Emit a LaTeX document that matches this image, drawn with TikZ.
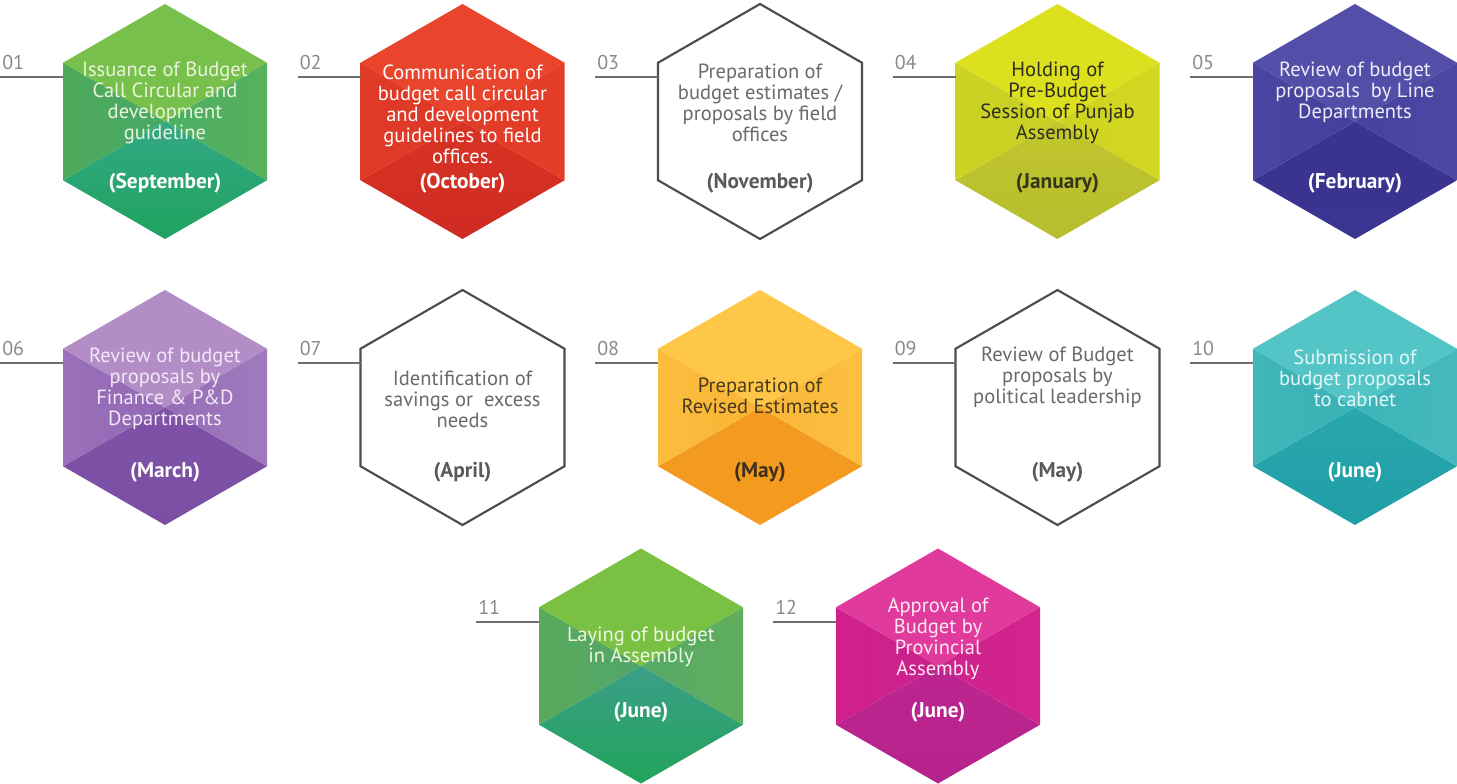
\documentclass[tikz,border=0pt]{standalone}
\usepackage{fontspec}
\setmainfont{PT Sans}
\usetikzlibrary{calc}
\definecolor{linegray}{HTML}{6E6E6E}
\definecolor{numgray}{HTML}{8A8A8A}
\definecolor{outlgray}{HTML}{4D4D4D}
\definecolor{otext}{HTML}{6A6A6A}
\definecolor{omonth}{HTML}{5A5A5A}
% hex colours: T top, L left, R right, Ba bottom upper, Bb bottom lower
\definecolor{aT}{HTML}{77C04B}\definecolor{aL}{HTML}{4FA95A}\definecolor{aR}{HTML}{57B15A}\definecolor{aBa}{HTML}{33A886}\definecolor{aBb}{HTML}{1FA35E}
\definecolor{bT}{HTML}{E9442C}\definecolor{bL}{HTML}{E03A27}\definecolor{bR}{HTML}{E43E29}\definecolor{bBa}{HTML}{D83424}\definecolor{bBb}{HTML}{CF2A22}
\definecolor{dT}{HTML}{DDE01F}\definecolor{dL}{HTML}{CCD322}\definecolor{dR}{HTML}{D3D820}\definecolor{dBa}{HTML}{C2C62C}\definecolor{dBb}{HTML}{B5BE2E}
\definecolor{eT}{HTML}{534FA9}\definecolor{eL}{HTML}{4945A0}\definecolor{eR}{HTML}{4C48A3}\definecolor{eBa}{HTML}{3A3390}\definecolor{eBb}{HTML}{3A3590}
\definecolor{fT}{HTML}{B38DC6}\definecolor{fL}{HTML}{9B70BA}\definecolor{fR}{HTML}{A07ABE}\definecolor{fBa}{HTML}{7F52A7}\definecolor{fBb}{HTML}{7A4FA3}
\definecolor{hT}{HTML}{FEC747}\definecolor{hL}{HTML}{FCBE3E}\definecolor{hR}{HTML}{FCC040}\definecolor{hBa}{HTML}{F29B20}\definecolor{hBb}{HTML}{F39A1F}
\definecolor{jT}{HTML}{53C5C6}\definecolor{jL}{HTML}{40B6B9}\definecolor{jR}{HTML}{45BABC}\definecolor{jBa}{HTML}{28A7AD}\definecolor{jBb}{HTML}{1F9EA6}
\definecolor{kT}{HTML}{7AC143}\definecolor{kL}{HTML}{5AA95C}\definecolor{kR}{HTML}{60AE5C}\definecolor{kBa}{HTML}{3C9E88}\definecolor{kBb}{HTML}{21A45B}
\definecolor{lT}{HTML}{E03A9C}\definecolor{lL}{HTML}{D0208B}\definecolor{lR}{HTML}{D4238D}\definecolor{lBa}{HTML}{BD2590}\definecolor{lBb}{HTML}{B5238C}
% text colours
\definecolor{atx}{HTML}{EAF4DE}
\definecolor{dtx}{HTML}{2E2E20}\definecolor{dmo}{HTML}{34341C}
\definecolor{etx}{HTML}{ECECF6}
\definecolor{ftx}{HTML}{F2E8F6}
\definecolor{htx}{HTML}{4A3A1C}\definecolor{hmo}{HTML}{3E301A}
\definecolor{jtx}{HTML}{E4F6F6}
\definecolor{ktx}{HTML}{EEF6E4}
\definecolor{ltx}{HTML}{FCE8F2}
\tikzset{
  numlbl/.style={anchor=west, text=numgray, font=\fontsize{15}{16}\selectfont, inner sep=0pt},
  body/.style={align=center, font=\fontsize{15.4}{15.75}\selectfont, inner sep=0pt},
  month/.style={font=\bfseries\fontsize{16}{16}\selectfont, inner sep=0pt},
  conn/.style={draw=linegray, line width=1.5pt},
  outl/.style={draw=outlgray, line width=1.6pt, fill=white, line join=miter},
}
% #1 name (also colour prefix), #2 cx, #3 cy
\newcommand{\cubehex}[3]{%
  \begin{scope}[shift={(#2,#3)}]
    \shade[top color=#1Ba, bottom color=#1Bb] (-102,58.75) -- (0,0) -- (102,58.75) -- (0,117.5) -- cycle;
    \shade[left color=#1L, right color=#1L!70!#1Ba] (-102,-58.75) -- (0,0) -- (-102,58.75) -- cycle;
    \shade[left color=#1R!70!#1Ba, right color=#1R] (102,-58.75) -- (0,0) -- (102,58.75) -- cycle;
    \fill[#1T] (0,-117.5) -- (102,-58.75) -- (0,0) -- (-102,-58.75) -- cycle;
    \coordinate (#1w) at (-102,-44.5);
    \coordinate (#1s) at (-165,-44.5);
  \end{scope}}
\newcommand{\outhex}[3]{%
  \begin{scope}[shift={(#2,#3)}]
    \draw[outl] (0,-117.5) -- (102,-58.75) -- (102,58.75) -- (0,117.5) -- (-102,58.75) -- (-102,-58.75) -- cycle;
    \coordinate (#1w) at (-102,-44.5);
    \coordinate (#1s) at (-165,-44.5);
  \end{scope}}
\begin{document}
\begin{tikzpicture}[x=0.75pt,y=-0.75pt]
\useasboundingbox (0,0) rectangle (1457,784);
\fill[white] (0,0) rectangle (1457,784);

% Row 1
\cubehex{a}{165}{121.5}
\cubehex{b}{462.5}{121.5}
\outhex{c}{760}{121.5}
\cubehex{d}{1057.5}{121.5}
\cubehex{e}{1355}{121.5}
% Row 2
\cubehex{f}{165}{407.5}
\outhex{g}{462.5}{407.5}
\cubehex{h}{760}{407.5}
\outhex{i}{1057.5}{407.5}
\cubehex{j}{1355}{407.5}
% Row 3
\cubehex{k}{641}{666}
\cubehex{l}{938}{666}

% connectors and numbers
\foreach \n/\t in {a/01,b/02,c/03,d/04,e/05,f/06,g/07,h/08,i/09,j/10,k/11,l/12}{
  \draw[conn] (\n s) -- (\n w);
  \node[numlbl] (\n num) at ($(\n s)+(2,-14)$) {\t};
}

% texts
\node[body, text=atx] (ta) at (165,102.5) {Issuance of Budget\\Call Circular and\\development\\guideline};
\node[month, text=white] (ma) at (165,183) {(September)};
\node[body, text=white] (tb) at (462.5,114) {Communication of\\budget call circular\\and development\\guidelines to field\\offices.};
\node[month, text=white] (mb) at (462.5,183) {(October)};
\node[body, text=otext] (tc) at (760,102.5) {Preparation of\\budget estimates /\\proposals by field\\offices};
\node[month, text=omonth] (mc) at (760,183) {(November)};
\node[body, text=dtx] (td) at (1057.5,102.5) {Holding of\\Pre-Budget\\Session of Punjab\\Assembly};
\node[month, text=dmo] (md) at (1057.5,183) {(January)};
\node[body, text=etx] (te) at (1355,92) {Review of budget\\proposals\ \ by Line\\Departments};
\node[month, text=white] (me) at (1355,183) {(February)};

\node[body, text=ftx] (tf) at (165,388.5) {Review of budget\\proposals by\\Finance \& P\&D\\Departments};
\node[month, text=white] (mf) at (165,472) {(March)};
\node[body, text=otext] (tg) at (462.5,399) {Identification of\\savings or\ \ excess\\needs};
\node[month, text=omonth] (mg) at (462.5,472) {(April)};
\node[body, text=htx] (th) at (760,396) {Preparation of\\Revised Estimates};
\node[month, text=hmo] (mh) at (760,472) {(May)};
\node[body, text=otext] (ti) at (1057.5,377) {Review of Budget\\proposals by\\political leadership};
\node[month, text=omonth] (mi) at (1057.5,472) {(May)};
\node[body, text=jtx] (tj) at (1355,378.5) {Submission of\\budget proposals\\to cabnet};
\node[month, text=white] (mj) at (1355,472) {(June)};

\node[body, text=ktx] (tk) at (641,646.5) {Laying of budget\\in Assembly};
\node[month, text=white] (mk) at (641,712) {(June)};
\node[body, text=ltx] (tl) at (938,638.5) {Approval of\\Budget by\\Provincial\\Assembly};
\node[month, text=white] (ml) at (938,712) {(June)};
\end{tikzpicture}
\end{document}
